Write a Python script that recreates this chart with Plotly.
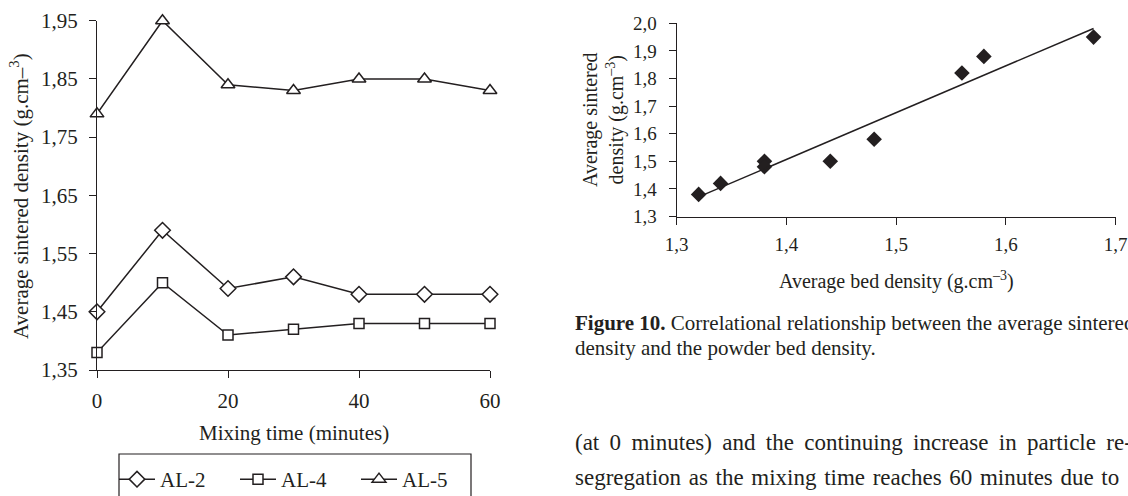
import numpy as np
import plotly.graph_objects as go

# ---------------- data ----------------
mix_time = [0, 10, 20, 30, 40, 50, 60]
al2 = [1.45, 1.59, 1.49, 1.51, 1.48, 1.48, 1.48]
al4 = [1.38, 1.50, 1.41, 1.42, 1.43, 1.43, 1.43]
al5 = [1.79, 1.95, 1.84, 1.83, 1.85, 1.85, 1.83]

left_xticks = [0, 20, 40, 60]
left_yticks = [1.35, 1.45, 1.55, 1.65, 1.75, 1.85, 1.95]
left_ytext = ["1,35", "1,45", "1,55", "1,65", "1,75", "1,85", "1,95"]

bed_density = [1.32, 1.34, 1.38, 1.38, 1.44, 1.48, 1.56, 1.58, 1.68]
sintered_density = [1.38, 1.42, 1.50, 1.48, 1.50, 1.58, 1.82, 1.88, 1.95]

right_xticks = [1.3, 1.4, 1.5, 1.6, 1.7]
right_xtext = ["1,3", "1,4", "1,5", "1,6", "1,7"]
right_yticks = [1.3, 1.4, 1.5, 1.6, 1.7, 1.8, 1.9, 2.0]
right_ytext = ["1,3", "1,4", "1,5", "1,6", "1,7", "1,8", "1,9", "2,0"]

# ---------------- style ----------------
W, H = 1128, 496
INK = "#231f20"
FONT = "Liberation Serif"


def px(x):
    return x / W


def py(y):
    return 1 - y / H


fig = go.Figure()

open_marker = dict(color="white", line=dict(color=INK, width=1.5))
for name, vals, sym, size in [("AL-2", al2, "diamond", 12),
                              ("AL-4", al4, "square", 10),
                              ("AL-5", al5, "triangle-up", 12)]:
    fig.add_trace(go.Scatter(
        x=mix_time, y=vals, name=name, mode="lines+markers",
        line=dict(color=INK, width=1.5),
        marker=dict(symbol=sym, size=size, **open_marker),
        cliponaxis=False, xaxis="x", yaxis="y"))

fig.add_trace(go.Scatter(
    x=bed_density, y=sintered_density, mode="markers", showlegend=False,
    marker=dict(symbol="diamond", size=12, color=INK),
    cliponaxis=False, xaxis="x2", yaxis="y2"))

slope, intercept = np.polyfit(bed_density, sintered_density, 1)
fit_x = [min(bed_density), max(bed_density)]
fit_y = [slope * v + intercept for v in fit_x]
fig.add_trace(go.Scatter(
    x=fit_x, y=fit_y, mode="lines", showlegend=False,
    line=dict(color=INK, width=1.5), cliponaxis=False,
    xaxis="x2", yaxis="y2"))

axis_common = dict(showgrid=False, zeroline=False, showline=True,
                   linecolor=INK, linewidth=1.3, ticks="outside",
                   tickcolor=INK, tickwidth=1.3, ticklen=7,
                   fixedrange=True, automargin=False)

fig.update_layout(
    template="none",
    width=W, height=H, autosize=False,
    margin=dict(l=0, r=0, t=0, b=0, pad=0, autoexpand=False),
    paper_bgcolor="white", plot_bgcolor="white",
    font=dict(family=FONT, color=INK, size=20),
    xaxis=dict(domain=[px(97), px(490)], range=[0, 60],
               tickvals=left_xticks, anchor="y",
               tickfont=dict(size=21, family=FONT, color=INK),
               ticklabelstandoff=5, **axis_common),
    yaxis=dict(domain=[py(370), py(20.7)], range=[1.35, 1.95],
               tickvals=left_yticks, ticktext=left_ytext, anchor="x",
               tickfont=dict(size=21, family=FONT, color=INK),
               ticklabelstandoff=7, **axis_common),
    xaxis2=dict(domain=[px(676.7), px(1115.5)], range=[1.3, 1.7],
                tickvals=right_xticks, ticktext=right_xtext, anchor="y2",
                tickfont=dict(size=19, family=FONT, color=INK),
                ticklabelstandoff=4, **axis_common),
    yaxis2=dict(domain=[py(216.5), py(23.3)], range=[1.3, 2.0],
                tickvals=right_yticks, ticktext=right_ytext, anchor="x2",
                tickfont=dict(size=19, family=FONT, color=INK),
                ticklabelstandoff=8, **axis_common),
    legend=dict(orientation="h", x=px(114), y=py(459),
                xanchor="left", yanchor="top",
                borderwidth=0, bgcolor="rgba(0,0,0,0)",
                font=dict(size=21, family=FONT, color=INK),
                itemwidth=36,
                entrywidth=70, entrywidthmode="pixels"),
    shapes=[dict(type="rect", xref="paper", yref="paper",
                 x0=px(119), x1=px(471), y0=py(530), y1=py(454),
                 line=dict(color=INK, width=1.2), fillcolor="rgba(0,0,0,0)")],
)

ann = []
# left chart titles
ann.append(dict(x=px(19), y=py(196), text="Average sintered density (g.cm–<sup>3</sup>)",
                textangle=-90, size=21))
ann.append(dict(x=px(294), y=py(433), text="Mixing time (minutes)", size=21))
# right chart titles
ann.append(dict(x=px(603), y=py(120),
                text="Average sintered<br>density (g.cm<sup>–3</sup>)",
                textangle=-90, size=20))
ann.append(dict(x=px(896), y=py(280),
                text="Average bed density (g.cm<sup>–3</sup>)", size=20))
# caption
ann.append(dict(x=px(573), y=py(323), xanchor="left",
                text="<b>Figure 10.</b> Correlational relationship between the average sintered",
                size=21))
ann.append(dict(x=px(573), y=py(348), xanchor="left",
                text="density and the powder bed density.", size=21))
# body text (justified in the source: word gaps widened a little)
body_lines = [
    "(at 0 minutes) and the continuing increase in particle re-",
    "segregation as the mixing time reaches 60 minutes due to",
    "over-mixing. This is suggesting that the powders are the",
]
body_gaps = [" \u2009", " \u200a", " \u2009"]
for i, (line, gap) in enumerate(zip(body_lines, body_gaps)):
    ann.append(dict(x=px(573), y=py(442 + 35 * i), xanchor="left",
                    text=line.replace(" ", gap), size=23))

final = []
for a in ann:
    size = a.pop("size")
    a.update(xref="paper", yref="paper", showarrow=False,
             font=dict(family=FONT, size=size, color=INK))
    a.setdefault("xanchor", "center")
    a.setdefault("yanchor", "middle")
    final.append(a)
fig.update_layout(annotations=final)

fig.write_html("out.html", config={"displayModeBar": False},
               post_script="document.body.style.margin='0';")
